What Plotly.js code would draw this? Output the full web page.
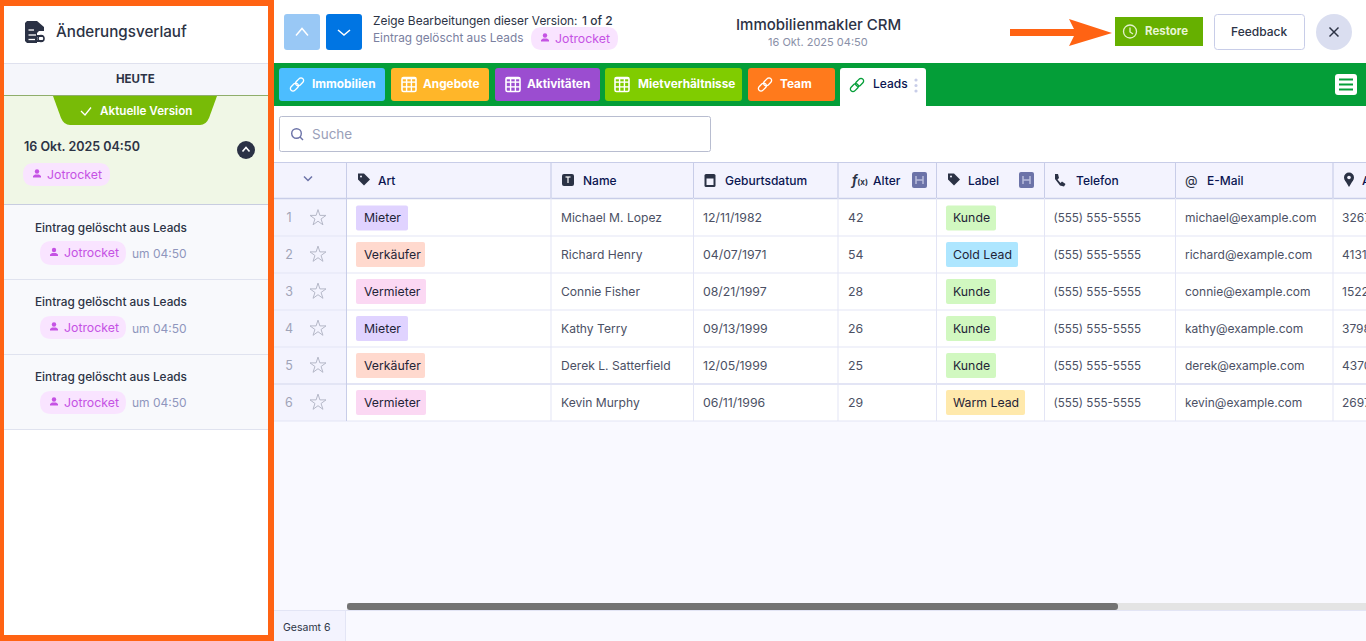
<!DOCTYPE html>
<html><head><meta charset="utf-8">
<script src="https://cdn.plot.ly/plotly-3.0.1.min.js"></script>
<style>html,body{margin:0;padding:0;background:#fff;overflow:hidden}#g{width:1366px;height:641px}</style>
</head><body><div id="g"></div>
<script>
// ---- data ----
const rowNumbers=[1,2,3,4,5,6];
const artValues=["Mieter","Verkäufer","Vermieter","Mieter","Verkäufer","Vermieter"];
const nameValues=["Michael M. Lopez","Richard Henry","Connie Fisher","Kathy Terry","Derek L. Satterfield","Kevin Murphy"];
const birthDates=["12/11/1982","04/07/1971","08/21/1997","09/13/1999","12/05/1999","06/11/1996"];
const ageValues=[42,54,28,26,25,29];
const labelValues=["Kunde","Cold Lead","Kunde","Kunde","Kunde","Warm Lead"];
const phoneValues=["(555) 555-5555","(555) 555-5555","(555) 555-5555","(555) 555-5555","(555) 555-5555","(555) 555-5555"];
const emailValues=["michael@example.com","richard@example.com","connie@example.com","kathy@example.com","derek@example.com","kevin@example.com"];
const addressValues=["3267","4131","1522","3798","4370","2697"];
const headerLabels=["Art","Name","Geburtsdatum","Alter","Label","Telefon","E-Mail","A"];
const tabNames=["Immobilien","Angebote","Aktivitäten","Mietverhältnisse","Team"];
const historyLabel="Eintrag gelöscht aus Leads";

// ---- style ----
const FF='Inter, "Noto Sans", sans-serif';
const DARK='#2c3345', NAVY='#0a1551', GREY='#4b5064', ORANGE='#ff6313', PURPLE='#c552e4', PILL='#f9e4ff';
const tagStyle={"Mieter":["#e0d3ff",52],"Verkäufer":["#ffd9ce",69],"Vermieter":["#fbd8f3",70],
 "Kunde":["#d1f8c0",50],"Cold Lead":["#ade6ff",72],"Warm Lead":["#ffe9ac",79]};
const rowY=[218,254.5,291.5,328.5,365.5,402.5];
const colEdges=[346.5,551,693.5,838,936.5,1044.5,1175.5,1333];
const rowLines=[236,273,310,347,384,421];
const headerX=[377,581.5,724,872,967,1075,1206,1361];
const iconX=[364,568,710,857,954,1060,1191,1349];
const tabSpec=[[279,385,"#4cbdff",311,297,"l"],[391,489,"#ffb629",422,409,"g"],[495,600,"#9b4dd0",526,513,"g"],[605,742,"#80cc00",637,622,"g"],[748,835,"#ff7a1c",779,765,"l"]];

const shapes=[], ann=[];
function rrPath(x0,y0,x1,y1,r,b){
 b=b||[1,1,1,1];const [a,c,d,e]=b.map(v=>v?r:0);
 return `M${x0+a},${y0}L${x1-c},${y0}Q${x1},${y0} ${x1},${y0+c}L${x1},${y1-d}Q${x1},${y1} ${x1-d},${y1}L${x0+e},${y1}Q${x0},${y1} ${x0},${y1-e}L${x0},${y0+a}Q${x0},${y0} ${x0+a},${y0}Z`;}
function rr(x0,y0,x1,y1,r,fill,lc,lw,b){shapes.push({type:'path',path:rrPath(x0,y0,x1,y1,r,b),fillcolor:fill||'rgba(0,0,0,0)',line:{color:lc||'rgba(0,0,0,0)',width:lc?(lw||1):0},layer:'below'});}
function rect(x0,y0,x1,y1,fill){shapes.push({type:'rect',x0,y0,x1,y1,fillcolor:fill,line:{width:0},layer:'below'});}
function seg(x0,y0,x1,y1,c,w){shapes.push({type:'line',x0,y0,x1,y1,line:{color:c,width:w||1},layer:'below'});}
function poly(p,fill,lc,lw,open){shapes.push({type:'path',path:'M'+p.map(q=>q.join(',')).join('L')+(open?'':'Z'),fillcolor:open?'rgba(0,0,0,0)':(fill||'rgba(0,0,0,0)'),line:{color:lc||'rgba(0,0,0,0)',width:lc?(lw||1):0},layer:'below'});}
function circ(cx,cy,r,fill,lc,lw){shapes.push({type:'circle',x0:cx-r,x1:cx+r,y0:cy-r,y1:cy+r,fillcolor:fill||'rgba(0,0,0,0)',line:{color:lc||'rgba(0,0,0,0)',width:lc?(lw||1):0},layer:'below'});}
function txt(t,x,y,size,color,o){o=o||{};ann.push({text:t,x,y,xref:'x',yref:'y',xanchor:o.a||'left',yanchor:'middle',showarrow:false,borderpad:0,font:{family:FF,size,color,weight:o.w||400}});}
function chev(cx,cy,w,h,c,lw){poly([[cx-w,cy+h],[cx,cy-h],[cx+w,cy+h]],null,c,lw,true);}
function stadium(cx,cy,len,rad,ang,c,lw){const pts=[];for(let i=0;i<=8;i++){const t=-Math.PI/2+Math.PI*i/8;pts.push([len/2+rad*Math.cos(t),rad*Math.sin(t)]);}
 for(let i=0;i<=8;i++){const t=Math.PI/2+Math.PI*i/8;pts.push([-len/2+rad*Math.cos(t),rad*Math.sin(t)]);}
 const ca=Math.cos(ang),sa=Math.sin(ang);poly(pts.map(p=>[cx+p[0]*ca-p[1]*sa,cy+p[0]*sa+p[1]*ca]),null,c,lw);}
function link(cx,cy,c){stadium(cx-2.6,cy+2.6,4,2.6,-Math.PI/4,c,1.3);stadium(cx+2.6,cy-2.6,4,2.6,-Math.PI/4,c,1.3);}
function grid(cx,cy,c){const s=7;rr(cx-s,cy-s,cx+s,cy+s,1.5,null,c,1.6);[-2.4,2.4].forEach(d=>{seg(cx+d,cy-s,cx+d,cy+s,c,1.4);seg(cx-s,cy+d,cx+s,cy+d,c,1.4);});seg(cx-s,cy-s+1,cx+s,cy-s+1,c,1.6);}
function user(cx,cy,c){circ(cx,cy-2,2.2,c);poly([[cx-4,cy+4],[cx-4,cy+2.6],[cx-2,cy+1],[cx+2,cy+1],[cx+4,cy+2.6],[cx+4,cy+4]],c);}
function pill(x0,y0,x1,y1){rr(x0,y0,x1,y1,(y1-y0)/2,PILL);user(x0+14,(y0+y1)/2-1,PURPLE);txt('Jotrocket',x0+22.5,(y0+y1)/2-.2,12.3,PURPLE);}
function tagIcon(cx,cy,c){poly([[cx-6,cy-6],[cx,cy-6],[cx+6,cy],[cx,cy+6],[cx-6,cy]],c);circ(cx-3,cy-3,1,'#f3f3fe');}

// ---- page background ----
rect(274,0,1366,641,'#f9f9ff');
rect(274,0,1366,63,'#ffffff');
rect(274,106,1366,162,'#ffffff');

// ---- sidebar ----
rect(4,6,268,636,'#ffffff');
seg(4,63.5,268,63.5,'#dfe1ee',1);
rect(4,64,268,95,'#f5f6fb');
seg(4,95.5,268,95.5,'#8fae6b',1);
rect(4,96,268,204,'#f0f7e6');
seg(4,204.5,268,204.5,'#c8cde0',1);
rect(4,205,268,429,'#f8f9fc');
[279.5,354.5,429.5].forEach(y=>seg(4,y,268,y,'#e0e3ef',1));
poly([[27,21],[37,21],[44,27],[44,31],[39,31],[37,33],[37,43],[27,43],[25,41],[25,23]],'#2b3245');
seg(28.5,30,34,30,'#fff',1.3);seg(28.5,35,36,35,'#fff',1.3);seg(28.5,39.5,35,39.5,'#fff',1.3);
seg(37,36,43,36,'#2b3245',2);seg(37,41,43,41,'#2b3245',2);circ(41,38.5,3,null,'#2b3245',1.6);
txt('Änderungsverlauf',55,31,15.2,DARK,{w:500});
txt('HEUTE',135,78.5,11.5,DARK,{a:'center',w:700});
shapes.push({type:'path',path:'M53,96L217,96L209,118Q206,125 200,125L70,125Q64,125 61,118Z',fillcolor:'#78bb07',line:{width:0},layer:'below'});
poly([[81,111],[85,115],[91,107.5]],null,'#fff',1.3,true);
txt('Aktuelle Version',99,111,11.7,'#ffffff',{w:600});
txt('16 Okt. 2025 04:50',22.5,146.5,12.5,DARK,{w:600});
circ(246,150,9,'#2b3245');chev(246,149.5,3.5,2,'#fff',1.6);
pill(23,163,110,186);
[[228,241,265,253.5],[302,316,339,328],[377,391,414,402.5]].forEach(r=>{
 txt(historyLabel,34,r[0],11.8,DARK,{w:500});
 pill(40,r[1],126,r[2]);
 txt('um 04:50',131,r[3],12,'#8f96bd');
});

// ---- top bar ----
rr(284,14,320,50,3,'#99c8f5');chev(302,32,6,3.5,'#ffffff',1.5);
rr(326,14,362,50,3,'#0075e3');poly([[338,30],[344,35],[350,30]],null,'#fff',1.5,true);
txt('Zeige Bearbeitungen dieser Version:',371.5,20,11.9,DARK);
txt('1 of 2',581,20,12,DARK,{w:500});
txt(historyLabel,371.5,38,11.8,'#7a80a0');
pill(531,27,618,50);
txt('Immobilienmakler CRM',818.5,24.8,15,DARK,{a:'center',w:500});
txt('16 Okt. 2025 04:50',818,42,11,'#8a90a8',{a:'center'});
poly([[1010,29],[1074,29],[1069,19],[1112,33],[1069,46],[1074,36],[1010,36]],ORANGE);
rect(1115,17,1203,46,'#66b000');
circ(1130,31.5,6.5,null,'#e3f2cc',1.3);poly([[1130,27.5],[1130,32],[1133,34]],null,'#e3f2cc',1.3,true);
txt('Restore',1144,31,11.5,'#e8f5d4',{w:700});
rr(1214.5,14.5,1304.5,49.5,3,'#fff','#c8cde8',1);
txt('Feedback',1259,31,12,DARK,{a:'center',w:500});
circ(1334,32,18,'#dadef0');seg(1329.5,27.5,1338.5,36.5,DARK,1.5);seg(1338.5,27.5,1329.5,36.5,DARK,1.5);

// ---- tab bar ----
rect(274,63,1366,106,'#049e38');
tabSpec.forEach((t,i)=>{
 rr(t[0],68,t[1],101,3,t[2]);
 (t[5]=='l'?link:grid)(t[4],84.5,'#ffffff');
 txt(tabNames[i],t[3],83.8,11.8,'#ffffff',{w:700});
});
rr(840,68,926,106,3,'#ffffff',null,0,[1,1,0,0]);
link(857,85,'#049e38');
txt('Leads',871.5,83.8,12,NAVY,{w:500});
[80,85.5,91].forEach(y=>circ(916,y,1.6,'#c8cde8'));
rr(1335,74,1357,95,3,'#ffffff');
[79.5,84.5,89.5].forEach(y=>seg(1339,y,1353,y,'#049e38',2));

// ---- search ----
rr(279.5,116.5,710.5,151.5,2,'#ffffff','#b8bdd0',1);
circ(296.5,133.5,4.8,null,'#6c73a8',1.4);seg(300,137,303,140,'#6c73a8',1.4);
txt('Suche',311,133.8,13.5,'#9aa0b8');

// ---- table ----
rect(274,163,1366,198,'#f3f3fe');
rect(274,199,347,421,'#f3f3fe');
rect(347,199,1366,421,'#ffffff');
seg(274,162.5,1366,162.5,'#c8cde8',1);
seg(274,198.5,1366,198.5,'#c8cde8',1.5);
rowLines.forEach((y,i)=>seg(i==4?274:347,y,1366,y,'#e3e5f5',i==4?2:1));
rowLines.forEach(y=>seg(274,y,347,y,'#e3e5f5',1));
colEdges.forEach((x,i)=>seg(x,163,x,421,i==0?'#c8cde8':'#e3e5f5',1));
colEdges.forEach(x=>seg(x,163,x,198,'#c8cde8',1));
rowY.forEach((y,i)=>{
 const a=tagStyle[artValues[i]], l=tagStyle[labelValues[i]];
 rr(356,y-12.5,356+a[1],y+12.5,2,a[0]);
 rr(946,y-12.5,946+l[1],y+12.5,2,l[0]);
});
chev(308,178.5,4,-2,'#6c73a8',1.5);
tagIcon(iconX[0],179.5,'#2b3245');
rr(iconX[1]-6,174,iconX[1]+6,186,2,'#2b3245');seg(iconX[1]-2.5,177,iconX[1]+2.5,177,'#fff',1.2);seg(iconX[1],177,iconX[1],183,'#fff',1.2);
rr(iconX[2]-5.5,174,iconX[2]+5.5,187,1.5,'#2b3245');rect(iconX[2]-3.5,178.5,iconX[2]+3.5,185,'#f3f3fe');
txt('<i><b>f</b></i><span style="font-size:8px"><b>(x)</b></span>',iconX[3]-8,180,13,'#2b3245');
tagIcon(iconX[4],179.5,'#2b3245');
poly([[iconX[5]-5,174],[iconX[5]-2,174],[iconX[5]-1,178],[iconX[5]-2.5,179.5],[iconX[5]+0.5,183],[iconX[5]+2,181.5],[iconX[5]+5.5,184],[iconX[5]+4,186.5],[iconX[5]+0,185.5],[iconX[5]-5,179]],'#2b3245');
txt('@',iconX[6],180,13,'#2b3245',{a:'center'});
circ(iconX[7],177.5,5,'#2b3245');poly([[iconX[7]-4.2,180],[iconX[7]+4.2,180],[iconX[7],187]],'#2b3245');circ(iconX[7],177.5,1.8,'#f3f3fe');
[912,1019].forEach(x=>{rr(x,172,x+15,188,2,'#6c73a8');seg(x+4,176,x+4,184,'#dfe2f5',1);seg(x+11,176,x+11,184,'#dfe2f5',1);seg(x+4.5,180,x+10.5,180,'#dfe2f5',1);});
headerLabels.forEach((h,i)=>txt(h,headerX[i],180,12,NAVY,{w:500}));

// ---- footer ----
rect(347,603,1366,610,'#e4e4e4');
rr(347,603,1118,610,3,'#737373');
seg(274,610.5,1366,610.5,'#e3e5f5',1);
rect(274,611,345,641,'#f3f3fe');
seg(345.5,611,345.5,641,'#e3e5f5',1);
txt('Gesamt 6',281.5,627,10.5,DARK);

// ---- orange frame ----
rect(0,0,4,641,ORANGE);rect(268,0,274,641,ORANGE);rect(0,0,274,6,ORANGE);rect(0,635,274,641,ORANGE);

// ---- table text via traces ----
const textY=rowY.map(y=>y+1);
const phoneY=rowY.map(y=>y+1.5);
function col(x,vals,size,color,ys){return {type:'scatter',mode:'text',x:vals.map(()=>x),y:ys||textY,text:vals.map(String),textposition:'middle right',textfont:{family:FF,size,color},hoverinfo:'skip',showlegend:false};}
const traces=[
 {type:'scatter',mode:'text',x:rowNumbers.map(()=>289),y:textY,text:rowNumbers.map(String),textposition:'middle center',textfont:{family:FF,size:12.5,color:'#a0a4b8'},hoverinfo:'skip',showlegend:false},
 {type:'scatter',mode:'markers',x:rowNumbers.map(()=>318),y:rowY,marker:{symbol:'star-open',size:12,color:'#b5b8c8',line:{width:1,color:'#b5b8c8'}},hoverinfo:'skip',showlegend:false},
 col(364,artValues,12.3,'#1f2437'),
 col(561,nameValues,12.1,GREY),
 col(703,birthDates,12.3,GREY),
 col(848,ageValues,12.3,GREY),
 col(953,labelValues,12.3,'#1f2437'),
 col(1053.5,phoneValues,11.6,GREY,phoneY),
 col(1185,emailValues,12,GREY),
 col(1342,addressValues,12,GREY)
];
Plotly.newPlot('g',traces,{
 width:1366,height:641,margin:{l:0,r:0,t:0,b:0,pad:0},paper_bgcolor:'#ffffff',plot_bgcolor:'rgba(0,0,0,0)',showlegend:false,
 xaxis:{range:[0,1366],visible:false,fixedrange:true},
 yaxis:{range:[641,0],visible:false,fixedrange:true},
 shapes:shapes,annotations:ann,font:{family:FF}
},{displayModeBar:false,staticPlot:true});
</script></body></html>
